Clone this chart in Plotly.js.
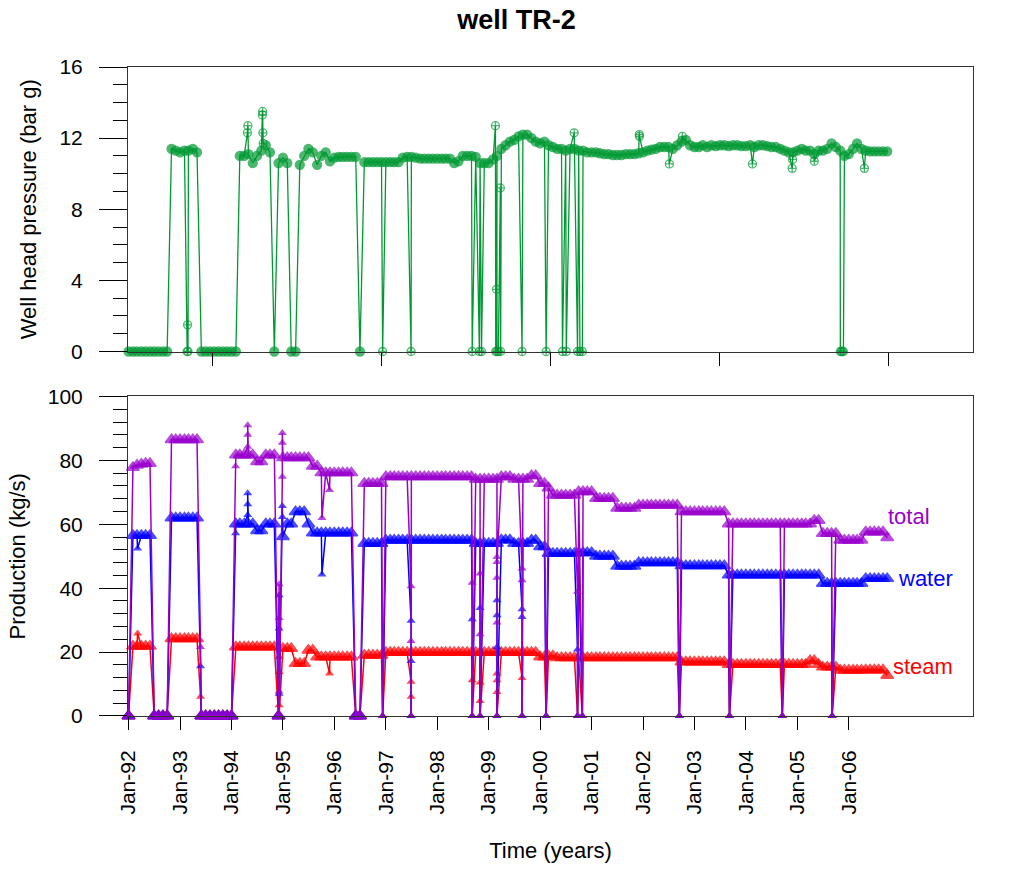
<!DOCTYPE html>
<html><head><meta charset="utf-8">
<script src="https://cdn.plot.ly/plotly-3.0.1.min.js"></script>
<style>html,body{margin:0;padding:0;background:#fff;}#chart{width:1033px;height:869px;}</style>
</head><body><div id="chart"></div>
<script>
// ---- monthly samples, Jan-92 (index 0) .. Oct-06 (index 177) ----
const firstMonth = '1992-01';
const pressureVals = [
0,0,0,0,0,0,0,0,0,0,
11.4,11.3,11.2,11.3,11.3,11.4,11.2,
0,0,0,0,0,0,0,0,0,
11.0,11.0,11.1,10.6,11.0,11.3,11.6,11.2,
0,
10.6,10.9,10.6,
0,0,
10.5,11.0,11.4,11.2,10.5,11.0,11.2,10.7,10.9,
10.95,10.95,10.95,10.95,10.95,
0,
10.65,10.65,10.65,10.65,10.65,10.65,10.65,10.65,10.65,
10.9,10.95,10.95,10.9,10.85,10.85,10.85,10.85,10.85,10.85,10.85,10.85,
10.6,10.7,11.0,11.0,11.0,10.95,10.6,10.6,10.6,10.8,
11.0,11.4,11.6,11.8,11.9,12.1,12.2,12.2,12.0,11.8,11.7,11.8,11.6,11.5,
11.4,11.4,11.3,11.4,11.4,11.3,11.3,11.2,
11.2,11.2,11.15,11.1,11.1,11.05,11.05,11.05,11.1,11.1,11.1,11.15,11.2,11.3,11.35,11.4,11.5,11.5,
11.5,11.4,11.6,11.8,11.9,11.6,11.5,11.5,11.6,11.5,
11.6,11.55,11.6,11.6,11.55,11.6,11.6,11.55,11.55,11.6,11.5,11.6,11.6,11.55,11.5,11.5,
11.4,11.3,11.2,11.2,11.3,11.4,11.3,11.3,11.1,11.3,11.3,11.4,11.7,11.5,
11.3,11.0,11.1,11.4,11.7,11.4,11.3,11.25,11.25,11.25,11.25,11.25
];
const totalVals = [
0,
77.8,78.5,78.8,79.0,79.0,
0,0,0,0,
86.5,86.5,86.5,86.5,86.5,86.5,86.5,
0,0,0,0,0,0,0,0,
81.7,81.7,81.7,81.7,81.7,79.6,79.6,81.7,81.7,81.7,
0,
80.8,80.8,80.8,80.8,80.8,80.8,80.8,
78.2,78.2,
76.1,76.1,76.1,76.1,76.1,76.1,76.1,76.1,
0,0,
72.8,72.8,72.8,72.8,72.8,
74.9,74.9,74.9,74.9,74.9,74.9,74.9,74.9,74.9,74.9,74.9,74.9,74.9,74.9,74.9,74.9,74.9,74.9,74.9,74.9,74.9,
74.1,74.1,74.1,74.1,74.1,74.1,
74.9,74.9,74.9,
74.1,74.1,74.1,74.1,
75.2,75.2,
72.8,72.8,
71.4,
69.1,69.1,69.1,69.1,69.1,69.1,
70.2,70.2,70.2,70.2,
68.1,68.1,68.1,68.1,68.1,
65.0,65.0,65.0,65.0,65.0,
66.0,66.0,66.0,66.0,66.0,66.0,66.0,66.0,66.0,66.0,
63.9,63.9,63.9,63.9,63.9,63.9,63.9,63.9,63.9,63.9,63.9,
60.1,60.1,60.1,60.1,60.1,60.1,60.1,60.1,60.1,60.1,60.1,60.1,60.1,60.1,60.1,60.1,60.1,60.1,60.1,60.1,61.2,61.2,
57.1,57.1,57.1,57.1,
55.0,55.0,55.0,55.0,55.0,55.0,
57.6,57.6,57.6,57.6,57.6,
55.8
];
const waterVals = [
0,
56.5,56.5,56.5,56.5,56.5,
0,0,0,0,
62.0,62.0,62.0,62.0,62.0,62.0,62.0,
0,0,0,0,0,0,0,0,
60.1,60.1,60.1,60.1,60.1,58.0,58.0,60.1,60.1,60.1,
0,
56.1,60.1,60.1,63.9,63.9,63.9,60.1,
57.3,57.3,57.3,57.3,57.3,57.3,57.3,57.3,57.3,57.3,
0,0,
54.0,54.0,54.0,54.0,54.0,
55.0,55.0,55.0,55.0,55.0,55.0,55.0,55.0,55.0,55.0,55.0,55.0,55.0,55.0,55.0,55.0,55.0,55.0,55.0,55.0,55.0,
54.0,54.0,54.0,54.0,54.0,54.0,
55.1,55.1,55.1,
54.0,54.0,54.0,54.0,
55.0,55.0,
53.0,53.0,
50.9,50.9,50.9,50.9,50.9,50.9,50.9,
51.1,51.1,51.1,51.1,
50.0,50.0,50.0,50.0,50.0,
46.9,46.9,46.9,46.9,46.9,
48.0,48.0,48.0,48.0,48.0,48.0,48.0,48.0,48.0,48.0,
47.0,47.0,47.0,47.0,47.0,47.0,47.0,47.0,47.0,47.0,47.0,
44.1,44.1,44.1,44.1,44.1,44.1,44.1,44.1,44.1,44.1,44.1,44.1,44.1,44.1,44.1,44.1,44.1,44.1,44.1,44.1,44.1,44.1,
41.5,41.5,41.5,41.5,41.5,41.5,41.5,41.5,41.5,41.5,
43.0,43.0,43.0,43.0,43.0,43.0
];
const steamVals = [
0,
21.8,21.8,21.8,21.8,21.8,
0,0,0,0,
24.2,24.2,24.2,24.2,24.2,24.2,24.2,
0,0,0,0,0,0,0,0,
21.6,21.6,21.6,21.6,21.6,21.6,21.6,21.6,21.6,21.6,
0,
21.1,21.1,21.1,
16.4,16.4,16.4,
20.6,20.6,
18.5,18.5,18.5,18.5,18.5,18.5,18.5,18.5,18.5,
0,0,
19.0,19.0,19.0,19.0,19.0,
19.9,19.9,19.9,19.9,19.9,19.9,19.9,19.9,19.9,19.9,19.9,19.9,19.9,19.9,19.9,19.9,19.9,19.9,
19.9,19.9,19.9,19.9,19.9,19.9,19.9,19.9,19.9,19.9,19.9,19.9,19.9,19.9,19.9,19.9,19.9,19.9,
18.5,18.5,
18.8,18.8,
18.2,18.2,18.2,18.2,18.2,18.2,18.2,18.2,18.2,18.2,18.2,18.2,18.2,18.2,18.2,18.2,18.2,18.2,18.2,18.2,18.2,18.2,18.2,18.2,18.2,18.2,18.2,18.2,18.2,
16.9,16.9,16.9,16.9,16.9,16.9,16.9,16.9,16.9,16.9,16.9,
16.1,16.1,16.1,16.1,16.1,16.1,16.1,16.1,16.1,16.1,16.1,16.1,16.1,16.1,16.1,16.1,16.1,16.1,16.1,17.3,17.3,16.1,
15.3,15.3,15.3,15.3,
14.3,14.3,14.3,14.3,14.3,14.3,
14.4,14.4,14.4,14.4,14.4,
12.7
];

// ---- individual daily readings (shut-ins, spikes) ----
const pressureEventDates = ['1993-02-20','1993-02-23','1993-02-26','1994-04-24','1994-04-27','1994-08-08','1994-08-10','1994-08-12','1994-08-14',
 '1996-12-09','1997-06-29','1998-09-06','1998-10-27','1998-11-11','1999-02-18','1999-02-20','1999-02-25','1999-03-01','1999-03-11','1999-03-25','1999-03-27',
 '1999-08-26','2000-02-13','2000-06-08','2000-07-05','2000-08-30','2000-09-23','2000-10-10','2000-10-27','2001-12-05','2001-12-07','2002-07-07','2002-10-07',
 '2004-02-17','2004-11-25','2004-11-28','2005-05-01','2005-11-02','2005-11-09','2005-11-16','2005-11-24','2006-04-22'];
const pressureEventVals = [0,1.5,0,12.3,12.7,13.3,13.5,12.3,11.7,
 0,0,0,0,0,12.7,0,3.5,0,0,9.2,0,
 0,0,0,0,12.3,0,0,0,12.2,12.1,10.55,12.1,
 10.55,10.3,10.8,10.7,0,0,0,0,10.3];

const totalEventDates = ['1993-05-26','1994-01-30','1994-04-26','1994-04-26','1994-04-26','1994-12-05','1994-12-05','1994-12-05','1994-12-05',
 '1994-12-28','1994-12-28','1994-12-28','1995-10-05','1995-11-28','1996-12-09','1997-06-29','1997-06-29','1997-06-29','1998-09-06','1998-09-06',
 '1998-11-01','1998-11-01','1998-11-01','1999-03-01','1999-03-01','1999-03-01','1999-03-01','1999-03-01','1999-08-26','1999-08-26','1999-08-26',
 '2000-02-13','2000-09-23','2000-09-23','2000-10-27','2002-09-16','2003-09-07','2004-09-16','2005-09-05'];
const totalEventVals = [21.6,78.2,84.3,88.0,91.0,41.2,30.7,7.7,0,
 74.9,88.6,85.5,62.0,70.7,0,40.6,23.5,0,41.7,0,
 44.6,25.6,0,49.8,43.3,29.3,0,48.2,46.2,42.5,0,
 0,38.9,0,0,0,0,0,0];

const waterEventDates = ['1992-03-05','1993-05-26','1994-01-30','1994-04-26','1994-04-26','1994-04-26','1994-12-05','1994-12-05','1994-12-05','1994-12-05',
 '1994-12-28','1994-12-28','1995-10-05','1996-12-09','1997-06-29','1997-06-29','1997-06-29','1998-09-06','1998-09-06','1998-11-01','1998-11-01',
 '1999-03-01','1999-03-01','1999-03-01','1999-03-01','1999-08-26','1999-08-26','1999-08-26','2000-02-13','2000-09-23','2000-09-23','2000-10-27',
 '2002-09-16','2003-09-07','2004-09-16','2005-09-05'];
const waterEventVals = [52.4,15.6,57.2,62.9,66.3,69.7,37.8,27.4,7.0,0,
 65.7,62.3,44.3,0,29.8,17.2,0,30.3,0,33.8,0,
 36.2,31.5,21.6,0,33.4,31.0,0,0,20.8,0,0,
 0,0,0,0];

const steamEventDates = ['1992-03-05','1993-05-26','1994-12-05','1994-12-05','1994-12-05','1994-12-05','1995-11-28','1996-12-09',
 '1997-06-29','1997-06-29','1997-06-29','1998-09-06','1998-09-06','1998-11-01','1998-11-01','1998-11-01',
 '1999-03-01','1999-03-01','1999-03-01','1999-03-01','1999-08-26','1999-08-26','2000-02-13','2000-09-23','2000-10-27',
 '2002-09-16','2003-09-07','2004-09-16','2005-09-05'];
const steamEventVals = [25.8,6.0,18.5,13.8,3.4,0,13.3,0,
 10.7,6.0,0,11.2,0,10.5,4.7,0,
 13.3,11.2,7.5,0,11.9,0,0,0,0,
 0,0,0,0];

// ---- axes ----
const yearTickDates = ['1992-01-01','1993-01-01','1994-01-01','1995-01-01','1996-01-01','1997-01-01','1998-01-01','1999-01-01',
 '2000-01-01','2001-01-01','2002-01-01','2003-01-01','2004-01-01','2005-01-01','2006-01-01'];
const yearTickLabels = ['Jan-92','Jan-93','Jan-94','Jan-95','Jan-96','Jan-97','Jan-98','Jan-99','Jan-00','Jan-01','Jan-02','Jan-03','Jan-04','Jan-05','Jan-06'];
const serialTicks = [34200, 35400, 36600, 37800, 39000];   // spreadsheet day numbers
const serialRange = [33600, 39600];

function serialToDate(s){ return new Date(Date.UTC(1899,11,30) + s*86400000).toISOString().slice(0,10); }
const xTicks1200 = serialTicks.map(serialToDate);
const xRange = serialRange.map(serialToDate);

function monthDates(n){
  const y0 = +firstMonth.slice(0,4), m0 = +firstMonth.slice(5,7)-1, out=[];
  for(let i=0;i<n;i++){ const t=m0+i; out.push((y0+Math.floor(t/12))+'-'+String(t%12+1).padStart(2,'0')+'-01'); }
  return out;
}
function merged(vals, evD, evV){
  const md = monthDates(vals.length);
  const pts = md.map((d,i)=>({d:d, v:vals[i], e:0}));
  evD.forEach((d,i)=>pts.push({d:d, v:evV[i], e:1}));
  pts.sort((a,b)=> a.d<b.d?-1:(a.d>b.d?1:0));
  return pts;
}

const FONT = 'Liberation Sans, Arial, sans-serif';
const GREEN = 'rgb(0,153,51)', PURPLE = 'rgb(153,0,204)', BLUE = 'rgb(0,0,255)', RED = 'rgb(255,0,0)';

const pP = merged(pressureVals, pressureEventDates, pressureEventVals);
const pT = merged(totalVals, totalEventDates, totalEventVals);
const pW = merged(waterVals, waterEventDates, waterEventVals);
const pS = merged(steamVals, steamEventDates, steamEventVals);

function prodTrace(pts, color, name){
  return {x: pts.map(p=>p.d), y: pts.map(p=>p.v), xaxis:'x3', yaxis:'y3', name:name, type:'scatter', mode:'lines+markers', cliponaxis:false,
    line:{color:color, width:1.5},
    marker:{symbol:'triangle-up', size: pts.map(p=>p.e?8:11), color:color, line:{color:color, width:pts.map(p=>p.e?0:1.5)}}, hoverinfo:'skip'};
}

const traces = [
  {x: pP.map(p=>p.d), y: pP.map(p=>p.v), xaxis:'x', yaxis:'y', type:'scatter', mode:'lines+markers', name:'pressure', cliponaxis:false,
   line:{color:GREEN, width:1.3},
   marker:{symbol: pP.map(p=>p.e?'circle-cross-open':'circle'), size: pP.map(p=>p.e?8:9), color:GREEN, line:{color:GREEN, width:1.3}}, hoverinfo:'skip'},
  prodTrace(pS, RED, 'steam'),
  prodTrace(pW, BLUE, 'water'),
  prodTrace(pT, PURPLE, 'total')
];

const AX = '#333', TK = '#000';
const tickFont = {family:FONT, size:21, color:'#000'};
const baseX = {type:'date', range:xRange, autorange:false, showgrid:false, zeroline:false, fixedrange:true};
const layout = {
  width:1033, height:869, paper_bgcolor:'#fff', plot_bgcolor:'#fff', showlegend:false,
  margin:{l:128, r:60, t:67, b:153, pad:0},
  font:{family:FONT, color:'#000'},
  title:{text:'<b>well TR-2</b>', font:{family:FONT, size:27, color:'#000'}, x:0.5, xref:'container', xanchor:'center', y:0.977, yref:'container', yanchor:'middle'},
  xaxis: Object.assign({}, baseX, {anchor:'y', domain:[0,1], showline:true, linecolor:AX, linewidth:1, mirror:true,
     tickmode:'array', tickvals:xTicks1200, ticks:'outside', ticklen:13, tickcolor:TK, showticklabels:false}),
  xaxis2: Object.assign({}, baseX, {overlaying:'x', anchor:'y', side:'top', showline:false,
     tickmode:'array', tickvals:xTicks1200, ticks:'inside', ticklen:14, tickcolor:TK, showticklabels:false}),
  xaxis3: Object.assign({}, baseX, {anchor:'y3', domain:[0,1], showline:true, linecolor:AX, linewidth:1, mirror:true,
     tickmode:'array', tickvals:yearTickDates, ticktext:yearTickLabels, ticks:'outside', ticklen:13, tickcolor:TK,
     tickangle:-90, tickfont:tickFont, ticklabelstandoff:12,
     title:{text:'Time (years)', font:{family:FONT, size:22, color:'#000'}, standoff:28}}),
  xaxis4: Object.assign({}, baseX, {overlaying:'x3', anchor:'y3', side:'top', showline:false,
     tickmode:'array', tickvals:xTicks1200, ticks:'inside', ticklen:14, tickcolor:TK, showticklabels:false}),
  yaxis: {domain:[0.5616,1], anchor:'x', range:[0,16], autorange:false, tickmode:'linear', tick0:0, dtick:4,
     ticks:'outside', ticklen:28, tickcolor:TK, minor:{tickmode:'linear', tick0:0, dtick:1, ticks:'outside', ticklen:14, tickcolor:TK, showgrid:false},
     showline:true, linecolor:AX, mirror:true, showgrid:false, zeroline:false, tickfont:tickFont, ticklabelstandoff:12,
     title:{text:'Well head pressure (bar g)', font:{family:FONT, size:22, color:'#000'}, standoff:16}},
  yaxis2: {overlaying:'y', anchor:'x', side:'right', range:[0,16], autorange:false, tickmode:'linear', tick0:0, dtick:4,
     ticks:'inside', ticklen:27, tickcolor:TK, minor:{tickmode:'linear', tick0:0, dtick:1, ticks:'inside', ticklen:14, tickcolor:TK, showgrid:false},
     showline:false, showgrid:false, zeroline:false, tickfont:tickFont, ticklabelstandoff:12},
  yaxis3: {domain:[0,0.4923], anchor:'x3', range:[0,100], autorange:false, tickmode:'linear', tick0:0, dtick:20,
     ticks:'outside', ticklen:28, tickcolor:TK, minor:{tickmode:'linear', tick0:0, dtick:4, ticks:'outside', ticklen:14, tickcolor:TK, showgrid:false},
     showline:true, linecolor:AX, mirror:true, showgrid:false, zeroline:false, tickfont:tickFont, ticklabelstandoff:12,
     title:{text:'Production (kg/s)', font:{family:FONT, size:22, color:'#000'}, standoff:16}},
  yaxis4: {overlaying:'y3', anchor:'x3', side:'right', range:[0,100], autorange:false, tickmode:'linear', tick0:0, dtick:20,
     ticks:'inside', ticklen:27, tickcolor:TK, minor:{tickmode:'linear', tick0:0, dtick:4, ticks:'inside', ticklen:14, tickcolor:TK, showgrid:false},
     showline:false, showgrid:false, zeroline:false, tickfont:tickFont, ticklabelstandoff:12},
  annotations:[
    {xref:'x3', yref:'y3', x:'2006-09-24', y:62.3, text:'total', showarrow:false, xanchor:'left', yanchor:'middle', font:{family:FONT, size:22, color:PURPLE}},
    {xref:'x3', yref:'y3', x:'2006-12-05', y:43.1, text:'water', showarrow:false, xanchor:'left', yanchor:'middle', font:{family:FONT, size:22, color:BLUE}},
    {xref:'x3', yref:'y3', x:'2006-10-30', y:15.6, text:'steam', showarrow:false, xanchor:'left', yanchor:'middle', font:{family:FONT, size:22, color:RED}}
  ]
};
Plotly.newPlot('chart', traces, layout, {staticPlot:true, displayModeBar:false});
</script>
</body></html>
